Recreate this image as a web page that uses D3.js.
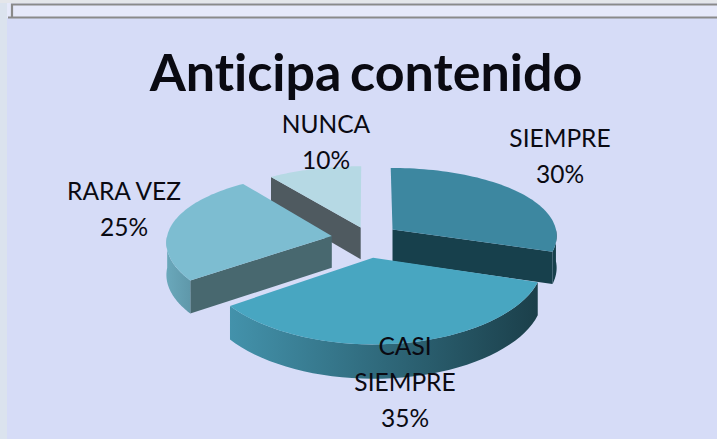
<!DOCTYPE html>
<html><head><meta charset="utf-8">
<script src="https://cdn.jsdelivr.net/npm/d3@7"></script>
<style>html,body{margin:0;padding:0;background:#d6dcf7;overflow:hidden}text{font-family:Lato,sans-serif;fill:#0a0a12;font-variant-ligatures:none}</style>
</head><body><svg id="c" width="717" height="439"></svg>
<script>
const categories = ["SIEMPRE","CASI SIEMPRE","RARA VEZ","NUNCA"];
const values = [30,35,25,10];
const labelLines = [["SIEMPRE","30%"],["CASI","SIEMPRE","35%"],["RARA VEZ","25%"],["NUNCA","10%"]];
const titleText = "Anticipa contenido";

const topColors = ["#3d87a0","#48a6c1","#7dbdd1","#b6d9e4"];
const cutColors = ["#17404c","#1c4652","#48686f","#4f5a60"];
const arcFrom = ["#17404c","#4392ab","#6aa8bb","#8ab"];
const arcTo = ["#17404c","#1b3f4a","#5f98aa","#8ab"];
const explodeX = [0.15,0.03,-0.22,-0.045];
const explodeY = [0.12,-0.27,0.03,0.15];
const labelAnchors = [[560,147],[405,355],[124,200],[326,133]];

const svg = d3.select("#c");
const W=717,H=439;
const defs = svg.append("defs");
svg.append("rect").attr("width",W).attr("height",H).attr("fill","#d6dcf7");
svg.append("rect").attr("width",7).attr("height",H).attr("fill","#dbe3ee");
svg.append("rect").attr("width",W).attr("height",3).attr("fill","#e4e6ea");
svg.append("rect").attr("x",7).attr("y",3).attr("width",W-7).attr("height",15).attr("fill","#e6e9fa");
svg.append("path").attr("d",`M12,17V4.5H${W}M8,17.5H${W}`).attr("fill","none").attr("stroke","#8a8a8a").attr("stroke-width",2.2);

const cx=368, cy=238, R=165, Ry=71, persp=0.12, perspX=0.08, depth=32;
const sx = d3.scaleLinear().domain([-1,1]).range([cx-R,cx+R]);
const sy = d3.scaleLinear().domain([-1,1]).range([cy+Ry,cy-Ry]);
function proj(wx,wy,dz){
  const k = 1/(1+wy*persp), kx = 1/(1+wy*perspX);
  return [sx(wx*kx), sy(wy*k)+(dz||0)*(1+ (-wy)*persp*0.5)];
}
const arcs = d3.pie().sort(null)(values);
const line = d3.line();
const slices = arcs.map((a,i)=>{
  const ox=explodeX[i], oy=explodeY[i];
  const pt=(t,r,dz)=>proj(ox+Math.sin(t)*r, oy+Math.cos(t)*r, dz);
  return {a,i,pt};
});
function sectorTop(s){
  const ts=d3.range(0,61).map(j=>s.a.startAngle+(s.a.endAngle-s.a.startAngle)*j/60);
  return line([s.pt(0,0,0),...ts.map(t=>s.pt(t,1,0))])+"Z";
}
function rim(s){
  const lo=Math.max(s.a.startAngle,Math.PI/2), hi=Math.min(s.a.endAngle,Math.PI*1.5);
  if(hi<=lo) return null;
  const ts=d3.range(0,41).map(j=>lo+(hi-lo)*j/40);
  return line([...ts.map(t=>s.pt(t,1,0)),...ts.slice().reverse().map(t=>s.pt(t,1,depth))])+"Z";
}
function cut(s,t){
  return line([s.pt(0,0,0),s.pt(t,1,0),s.pt(t,1,depth),s.pt(0,0,depth)])+"Z";
}
const order=[3,0,2,1];
const g=svg.append("g");
order.forEach(i=>{
  const s=slices[i];
  const grad=defs.append("linearGradient").attr("id","rim"+i).attr("x1","0").attr("x2","1").attr("y1","0").attr("y2","0");
  grad.append("stop").attr("offset","0").attr("stop-color",arcFrom[i]);
  grad.append("stop").attr("offset","1").attr("stop-color",arcTo[i]);
  if(i===0) g.append("path").attr("d",cut(s,s.a.endAngle)).attr("fill",cutColors[i]);
  if(i===2) g.append("path").attr("d",cut(s,s.a.startAngle)).attr("fill",cutColors[i]);
  if(i===3) g.append("path").attr("d",cut(s,s.a.startAngle)).attr("fill",cutColors[i]);
  const r=rim(s);
  if(r) g.append("path").attr("d",r).attr("fill",`url(#rim${i})`);
  g.append("path").attr("d",sectorTop(s)).attr("fill",topColors[i]);
});
svg.append("text").attr("x",366).attr("y",91).attr("text-anchor","middle")
  .attr("font-size",52).attr("font-weight",700).attr("fill","#000").attr("word-spacing","-4px").text(titleText);
const lh=36;
labelLines.forEach((ls,i)=>{
  const t=svg.append("text").attr("text-anchor","middle").attr("font-size",24.5);
  ls.forEach((l,j)=>t.append("tspan").attr("x",labelAnchors[i][0]).attr("y",labelAnchors[i][1]+j*lh).text(l));
});
</script></body></html>
